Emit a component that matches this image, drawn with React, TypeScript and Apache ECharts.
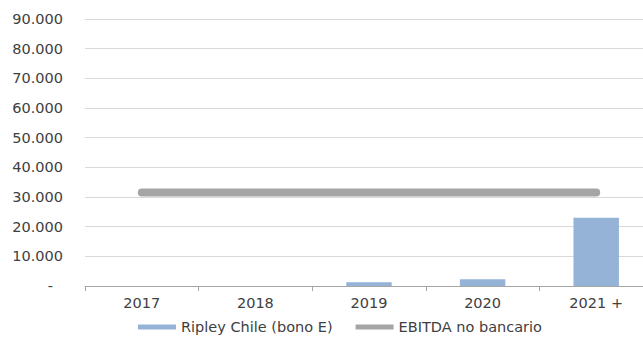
import React, { useEffect, useRef } from "react";
import * as echarts from "echarts";

const categories = ["2017", "2018", "2019", "2020", "2021 +"];
const bonoE = [0, 0, 1300, 2300, 23000];
const ebitda = [31500, 31500, 31500, 31500, 31500];
const yTicks = { min: 0, max: 90000, interval: 10000 };

function fmt(v: number): string {
  if (v === 0) return "{dash|-}";
  return String(v).replace(/\B(?=(\d{3})+(?!\d))/g, ".");
}

export default function App() {
  const ref = useRef<HTMLDivElement>(null);
  useEffect(() => {
    if (!ref.current) return;
    const chart = echarts.init(ref.current, null, { renderer: "svg" });
    const font = "DejaVu Sans, Verdana, sans-serif";
    chart.setOption({
      animation: false,
      backgroundColor: "#ffffff",
      grid: { left: 85, right: 7, top: 19, bottom: 52 },
      xAxis: {
        type: "category",
        data: categories,
        axisLine: { lineStyle: { color: "#a6a6a6", width: 1 } },
        axisTick: { show: true, length: 5, lineStyle: { color: "#a6a6a6" } },
        axisLabel: { color: "#404040", fontSize: 14.5, fontFamily: font, margin: 9 },
      },
      yAxis: {
        type: "value",
        min: yTicks.min,
        max: yTicks.max,
        interval: yTicks.interval,
        axisLine: { show: false },
        axisTick: { show: false },
        splitLine: { lineStyle: { color: "#d9d9d9", width: 1 } },
        axisLabel: {
          color: "#404040",
          fontSize: 14.5,
          fontFamily: font,
          margin: 22,
          formatter: fmt,
          rich: { dash: { fontSize: 14.5, fontFamily: font, color: "#404040", padding: [0, 10, 0, 0] } },
        },
      },
      legend: {
        left: 138,
        top: 319,
        padding: 0,
        itemWidth: 38,
        itemHeight: 5,
        itemGap: 23,
        textStyle: { color: "#404040", fontSize: 14.5, fontFamily: font, lineHeight: 16 },
        data: [
          { name: "Ripley Chile (bono E)", icon: "rect" },
          { name: "EBITDA no bancario", icon: "rect" },
        ],
      },
      series: [
        {
          name: "Ripley Chile (bono E)",
          type: "bar",
          data: bonoE,
          barWidth: "40%",
          itemStyle: { color: "#95b3d7" },
        },
        {
          name: "EBITDA no bancario",
          type: "line",
          data: ebitda,
          symbol: "none",
          color: "#a5a5a5",
          lineStyle: { color: "#a5a5a5", width: 8, cap: "round" },
        },
      ],
    });
    return () => chart.dispose();
  }, []);
  return (
    <div style={{ width: 643, height: 338, position: "absolute", left: 0, top: 0, overflow: "hidden" }}>
      <div ref={ref} style={{ width: 660, height: 338 }} />
    </div>
  );
}
